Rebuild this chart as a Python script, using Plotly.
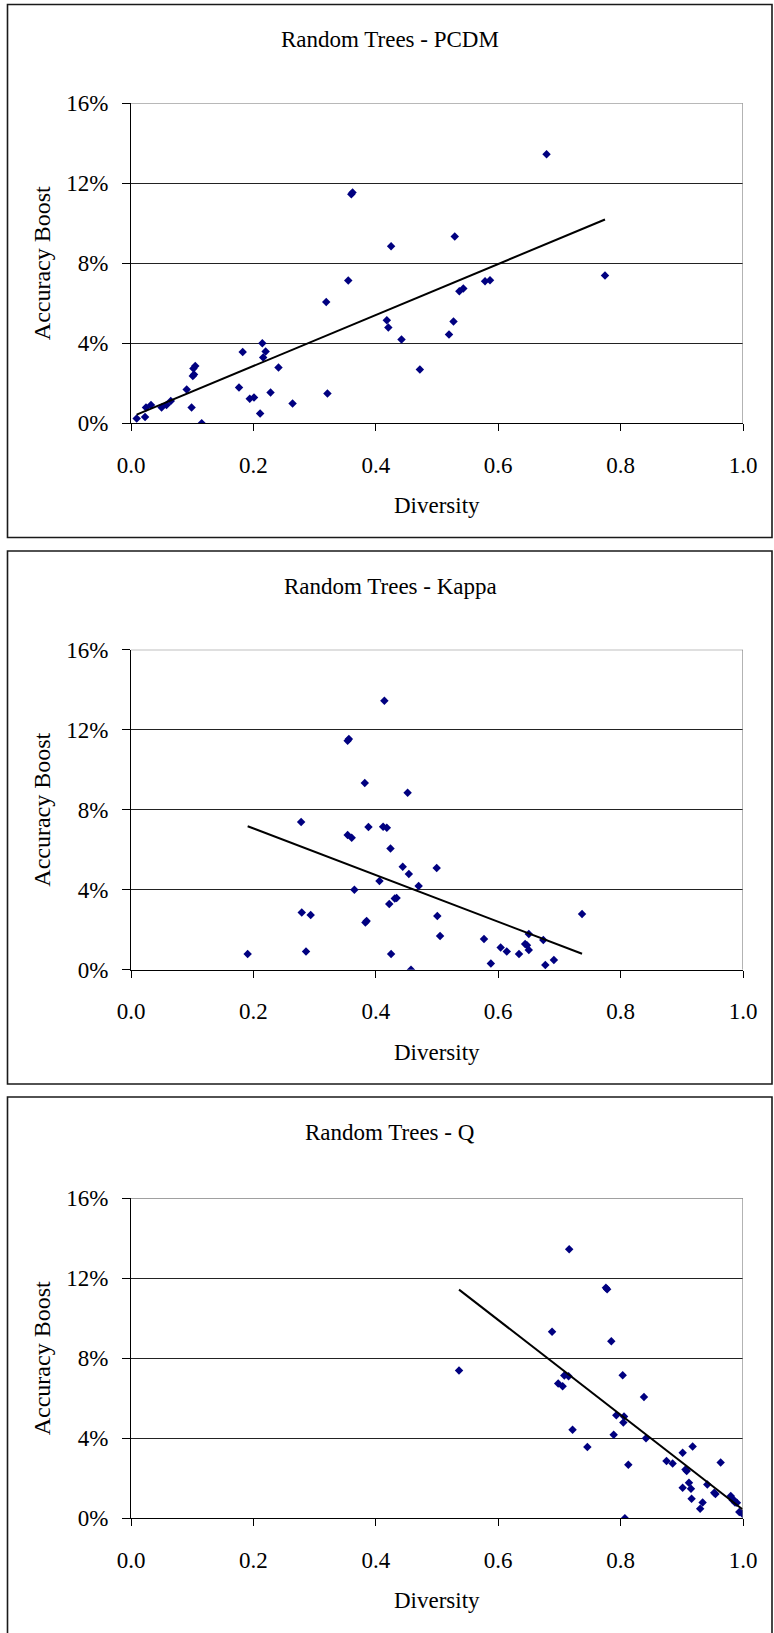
import numpy as np
import plotly.graph_objects as go

W, H = 774, 1633

# ---- data (accuracy boost in %, shared across the three diversity measures) ----
accuracy_boost = [0.00, 0.23, 0.31, 0.48, 0.78, 0.79, 0.79, 0.91, 0.91, 0.98,
                  1.11, 1.22, 1.28, 1.48, 1.53, 1.69, 1.78, 2.36, 2.44, 2.68,
                  2.74, 2.79, 2.86, 3.28, 3.56, 3.59, 4.00, 4.18, 4.43, 4.79,
                  5.09, 5.15, 6.06, 6.60, 6.74, 7.10, 7.14, 7.15, 7.39, 8.85,
                  9.33, 11.45, 11.53, 13.45]

diversity_pcdm = [0.1155, 0.0093, 0.023, 0.211, 0.0245, 0.050, 0.099, 0.0327, 0.058, 0.264,
                  0.065, 0.194, 0.201, 0.321, 0.228, 0.091, 0.1765, 0.101, 0.103, 0.472,
                  0.102, 0.241, 0.105, 0.216, 0.1825, 0.220, 0.2146, 0.442, 0.5196, 0.4205,
                  0.527, 0.418, 0.319, 0.5365, 0.543, 0.5785, 0.355, 0.5866, 0.7745, 0.425,
                  0.529, 0.360, 0.362, 0.679]

diversity_kappa = [0.4575, 0.677, 0.588, 0.691, 0.1906, 0.425, 0.634, 0.286, 0.614, 0.650,
                   0.604, 0.647, 0.644, 0.6737, 0.5768, 0.505, 0.650, 0.383, 0.385, 0.5005,
                   0.2936, 0.737, 0.279, 0.422, 0.431, 0.434, 0.365, 0.470, 0.406, 0.454,
                   0.4995, 0.444, 0.424, 0.3606, 0.354, 0.418, 0.388, 0.412, 0.278, 0.452,
                   0.382, 0.354, 0.356, 0.414]

diversity_q = [0.807, 0.999, 0.994, 0.930, 0.990, 0.934, 0.987, 0.985, 0.983, 0.916,
               0.980, 0.955, 0.953, 0.915, 0.9014, 0.9417, 0.9117, 0.908, 0.906, 0.8126,
               0.885, 0.9635, 0.875, 0.9014, 0.7457, 0.9177, 0.8415, 0.7887, 0.7215, 0.8045,
               0.8056, 0.793, 0.8382, 0.7053, 0.698, 0.715, 0.708, 0.8034, 0.536, 0.7848,
               0.688, 0.778, 0.776, 0.716]

panel_titles = ["Random Trees - PCDM", "Random Trees - Kappa", "Random Trees - Q"]
x_tick_vals = [0.0, 0.2, 0.4, 0.6, 0.8, 1.0]
x_tick_text = ["0.0", "0.2", "0.4", "0.6", "0.8", "1.0"]
y_tick_vals = [0.0, 0.04, 0.08, 0.12, 0.16]
y_tick_text = ["0%", "4%", "8%", "12%", "16%"]
x_title = "Diversity"
y_title = "Accuracy Boost"

series = [diversity_pcdm, diversity_kappa, diversity_q]
y_frac = [v / 100.0 for v in accuracy_boost]

# ---- layout geometry (pixels) ----
PLOT_L, PLOT_R = 131, 743
PLOT_H = 320
plot_tops = [103.2, 649.7, 1198.3]
border_tops = [4.5, 551, 1097]
border_bottoms = [537.5, 1084, 1650]
FONT = "Liberation Serif"


def fx(p):
    return p / W


def fy(p):
    return 1 - p / H


fig = go.Figure()
layout = dict(
    template="none",
    width=W, height=H,
    margin=dict(l=0, r=0, t=0, b=0, pad=0),
    paper_bgcolor="white", plot_bgcolor="white",
    showlegend=False,
    font=dict(family=FONT, size=23, color="black"),
)
shapes = []
annotations = []

for i, xs in enumerate(series):
    n = "" if i == 0 else str(i + 1)
    xa, ya = "x" + n, "y" + n
    top = plot_tops[i]
    bot = top + PLOT_H

    fig.add_trace(go.Scatter(
        x=xs, y=y_frac, mode="markers", xaxis=xa, yaxis=ya,
        marker=dict(symbol="diamond", size=6.5, color="#000080", line=dict(width=0)),
        hoverinfo="skip",
    ))
    # linear trend line (least squares), spanning the data range
    coef = np.polyfit(xs, y_frac, 1)
    tx = [min(xs), max(xs)]
    ty = list(np.polyval(coef, tx))
    fig.add_trace(go.Scatter(
        x=tx, y=ty, mode="lines", xaxis=xa, yaxis=ya,
        line=dict(color="black", width=2), hoverinfo="skip",
    ))

    layout["xaxis" + n] = dict(
        domain=[fx(PLOT_L), fx(PLOT_R)], anchor=ya, range=[0, 1],
        tickvals=x_tick_vals, ticktext=x_tick_text,
        ticks="outside", ticklen=7, tickwidth=1, tickcolor="black",
        showline=True, linecolor="black", linewidth=1,
        showgrid=False, zeroline=False, fixedrange=True, automargin=False,
        ticklabelstandoff=14,
        tickfont=dict(family=FONT, size=23, color="black"),
    )
    layout["yaxis" + n] = dict(
        domain=[fy(bot), fy(top)], anchor=xa, range=[0, 0.16],
        tickvals=y_tick_vals, ticktext=y_tick_text,
        ticks="outside", ticklen=8, tickwidth=1, tickcolor="black",
        showline=True, linecolor="black", linewidth=1,
        showgrid=True, gridcolor="#222222", gridwidth=1,
        zeroline=False, fixedrange=True, automargin=False,
        ticklabelstandoff=9,
        tickfont=dict(family=FONT, size=23, color="black"),
    )

    # grey plot-area frame (top and right)
    shapes.append(dict(type="line", xref=xa, yref=ya, x0=0, x1=1, y0=0.16, y1=0.16,
                       line=dict(color="#808080", width=1.2), layer="above"))
    shapes.append(dict(type="line", xref=xa, yref=ya, x0=1, x1=1, y0=0, y1=0.16,
                       line=dict(color="#808080", width=1.2), layer="above"))
    # chart-area border
    shapes.append(dict(type="rect", xref="paper", yref="paper",
                       x0=fx(7.5), x1=fx(772), y0=fy(border_bottoms[i]), y1=fy(border_tops[i]),
                       line=dict(color="#1a1a1a", width=1.6), layer="below"))

    annotations.append(dict(text=panel_titles[i], xref="paper", yref="paper",
                            x=fx(390), y=fy(border_tops[i] + 35.5), xanchor="center", yanchor="middle",
                            showarrow=False, font=dict(family=FONT, size=23, color="black")))
    annotations.append(dict(text=x_title, xref="paper", yref="paper",
                            x=fx(437), y=fy(bot + 82.5), xanchor="center", yanchor="middle",
                            showarrow=False, font=dict(family=FONT, size=23, color="black")))
    annotations.append(dict(text=y_title, xref="paper", yref="paper", textangle=-90,
                            x=fx(42), y=fy(top + PLOT_H / 2), xanchor="center", yanchor="middle",
                            showarrow=False, font=dict(family=FONT, size=24, color="black")))

layout["shapes"] = shapes
layout["annotations"] = annotations
fig.update_layout(**layout)
fig.write_html("out.html", config={"displayModeBar": False},
               post_script="document.body.style.margin='0';")
